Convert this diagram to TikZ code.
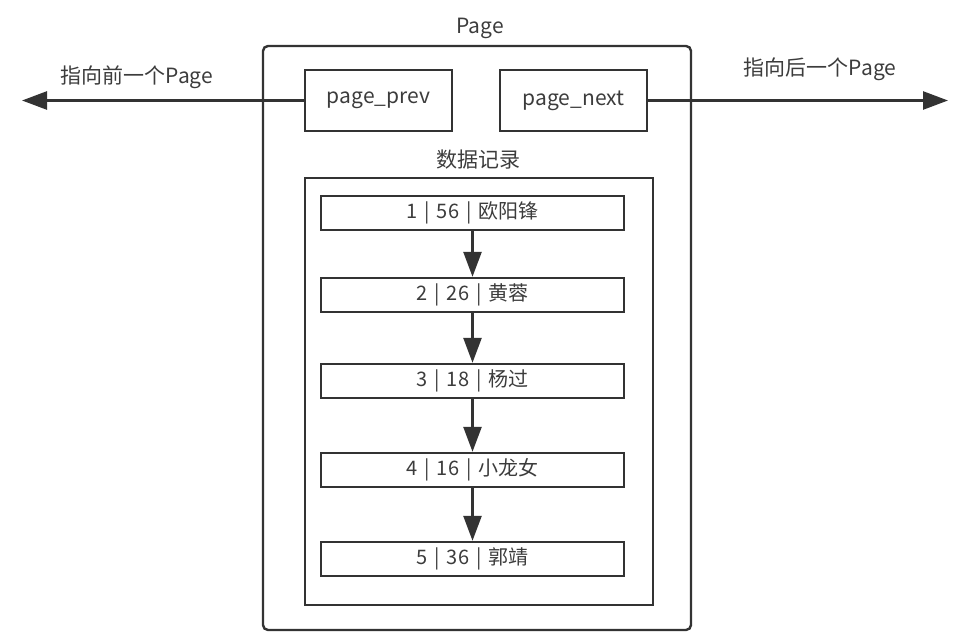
\documentclass[tikz,border=0pt]{standalone}
\usepackage{fontspec}
\setmainfont{Noto Sans CJK SC}
\usepackage{tikz}
\usetikzlibrary{arrows.meta,positioning}
\definecolor{linegray}{RGB}{51,51,51}
\definecolor{textgray}{RGB}{60,60,60}
\newcommand{\recsep}{\hspace{0.35em}|\hspace{0.35em}}

\begin{document}
\begin{tikzpicture}[
    x=1pt, y=-1pt,
    every node/.style={font=\fontsize{21}{24}\selectfont, text=textgray},
    box/.style={rectangle, draw=linegray, line width=2.4pt, inner sep=0pt},
    rec/.style={box, minimum width=303pt, minimum height=34pt, font=\fontsize{20}{22}\selectfont},
    ptr/.style={box, minimum width=147pt, minimum height=61pt},
    arrow/.style={-{Triangle[width=18pt,length=25pt]}, line width=2.6pt, draw=linegray}
]
\useasboundingbox (0,0) rectangle (968,644);

% page frame
\node[box, rounded corners=5pt, minimum width=428pt, minimum height=584pt] (page) at (477,338) {};
\node (pagelbl) at (480,28) {Page};

% prev / next pointers
\node[ptr] (prev) at (378.5,100.5) {page\_prev};
\node[ptr] (next) at (573.5,100.5) {page\_next};
\coordinate (leftend) at (22,100.5);
\coordinate (rightend) at (948,100.5);
\draw[arrow] (prev) -- (leftend);
\draw[arrow] (next) -- (rightend);
\node (prevlbl) at (137,77) {指向前一个Page};
\node (nextlbl) at (820,69) {指向后一个Page};

% records
\node (datalbl) at (478,160) {数据记录};
\node[box, minimum width=348pt, minimum height=427pt] (data) at (479,391.5) {};
\node[rec] (r1) at (472.5,213) {1\recsep 56\recsep 欧阳锋};
\node[rec] (r2) at (472.5,295) {2\recsep 26\recsep 黄蓉};
\node[rec] (r3) at (472.5,381) {3\recsep 18\recsep 杨过};
\node[rec] (r4) at (472.5,470) {4\recsep 16\recsep 小龙女};
\node[rec] (r5) at (472.5,559) {5\recsep 36\recsep 郭靖};
\foreach \a/\b in {r1/r2, r2/r3, r3/r4, r4/r5}
    \draw[arrow] (\a) -- (\b);
\end{tikzpicture}
\end{document}
